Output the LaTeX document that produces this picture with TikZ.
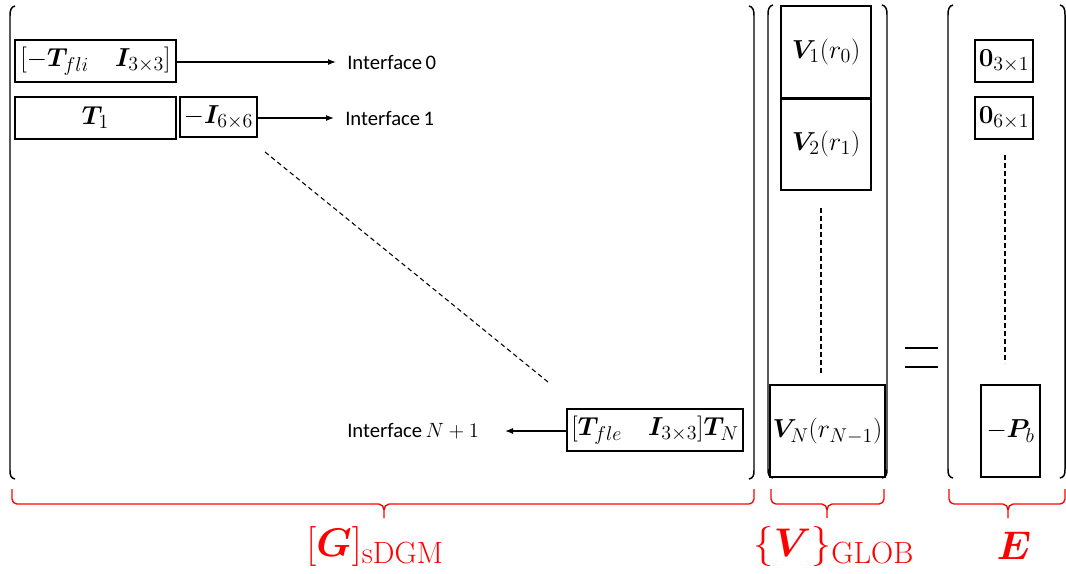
\documentclass[tikz,border=0pt]{standalone}
\usepackage{fix-cm}
\usepackage{amsmath,bm}
\usepackage[no-math]{fontspec}
\newfontfamily\calib{Carlito}
\usetikzlibrary{arrows.meta}
\DeclareMathSizes{19.5}{19.5}{15}{11}
\DeclareMathSizes{30}{30}{23}{17}
\definecolor{bred}{RGB}{255,0,0}
\tikzset{
  bx/.style={draw, line width=1pt, inner sep=0pt, font=\fontsize{19.5}{22}\selectfont},
  lbl/.style={inner sep=0pt, font=\calib\fontsize{15.5}{18}\selectfont},
  arr/.style={line width=0.9pt, -{Latex[length=6pt,width=4.5pt]}},
  brk/.style={line width=1.1pt},
  dsh/.style={line width=0.8pt, dash pattern=on 3.5pt off 2.5pt},
  rbrace/.style={bred, line width=1pt},
  rlbl/.style={bred, inner sep=0pt, font=\fontsize{30}{34}\selectfont},
}
\begin{document}
\begin{tikzpicture}[x=0.75pt,y=-0.75pt]
\useasboundingbox (0,0) rectangle (1066,574);
% big brackets
\draw[brk] (15,6) .. controls (11,7) and (10,10) .. (10,16) -- (10,470) .. controls (10,476) and (11,478) .. (15,479);
\draw[brk] (749,6) .. controls (753,7) and (754,10) .. (754,16) -- (754,470) .. controls (754,476) and (753,478) .. (749,479);
\draw[brk] (773,5) .. controls (769,6) and (768,9) .. (768,15) -- (768,469) .. controls (768,475) and (769,477) .. (773,478);
\draw[brk] (882,5) .. controls (886,6) and (887,9) .. (887,15) -- (887,469) .. controls (887,475) and (886,477) .. (882,478);
\draw[brk] (953,5) .. controls (949,6) and (948,9) .. (948,15) -- (948,469) .. controls (948,475) and (949,477) .. (953,478);
\draw[brk] (1060,5) .. controls (1064,6) and (1065,9) .. (1065,15) -- (1065,469) .. controls (1065,475) and (1064,477) .. (1060,478);
% G blocks
\node[bx, minimum width=120.75pt, minimum height=31.5pt] (b0) at (95.5,61) {$[-\bm{T}_{fli}\quad \bm{I}_{3\times3}]$};
\node[bx, minimum width=120.75pt, minimum height=31.5pt] (t1) at (95.5,118) {$\bm{T}_{1}$};
\node[bx, minimum width=57.75pt, minimum height=30pt] (i6) at (218.5,117) {$-\bm{I}_{6\times6}$};
\node[bx, minimum width=132pt, minimum height=31.5pt] (tn) at (655,430) {$[\bm{T}_{fle}\quad \bm{I}_{3\times3}]\bm{T}_{N}$};
\node[lbl, anchor=west] (if0) at (347,62) {Interface\,0};
\node[lbl, anchor=west] (if1) at (345,118) {Interface\,1};
\node[lbl, anchor=west] (ifn) at (347,431) {Interface\,$N+1$};
\coordinate (a0s) at (176,62);
\coordinate (a0e) at (336,62);
\coordinate (a1s) at (257,118);
\coordinate (a1e) at (334,118);
\coordinate (ans) at (567,431);
\coordinate (ane) at (505,431);
\draw[arr] (a0s) -- (a0e);
\draw[arr] (a1s) -- (a1e);
\draw[arr] (ans) -- (ane);
\coordinate (d0) at (265,152);
\coordinate (d1) at (548,382);
\draw[dsh] (d0) -- (d1);
% V blocks
\node[bx, minimum width=67.5pt, minimum height=69pt] (v1) at (826,52) {$\bm{V}_{1}(r_0)$};
\node[bx, minimum width=67.5pt, minimum height=68.25pt] (v2) at (826,144.5) {$\bm{V}_{2}(r_1)$};
\node[bx, minimum width=86.25pt, minimum height=69pt] (vn) at (827.5,431) {$\bm{V}_{N}(r_{N-1})$};
\coordinate (vd0) at (821,208);
\coordinate (vd1) at (821,373);
\draw[dsh] (vd0) -- (vd1);
% equals
\coordinate (e1) at (905,348); \coordinate (e2) at (938,348);
\coordinate (e3) at (905,367); \coordinate (e4) at (938,367);
\draw[line width=1.1pt] (e1) -- (e2) (e3) -- (e4);
% E blocks
\node[bx, minimum width=43.5pt, minimum height=31.5pt] (o1) at (1004,61) {$\mathbf{0}_{3\times1}$};
\node[bx, minimum width=43.5pt, minimum height=31.5pt] (o2) at (1004,118) {$\mathbf{0}_{6\times1}$};
\node[bx, minimum width=44.25pt, minimum height=69pt] (pb) at (1010.5,431) {$-\bm{P}_{b}$};
\coordinate (ed0) at (1005,155);
\coordinate (ed1) at (1005,363);
\draw[dsh] (ed0) -- (ed1);
% red braces
\draw[rbrace] (12,489) -- (12,499) to[out=-90,in=180] (17,504) -- (379,504) to[out=0,in=90] (384,510) -- (384,518);
\draw[rbrace] (384,510) to[out=90,in=180] (389,504) -- (749,504) to[out=0,in=-90] (754,499) -- (754,489);
\draw[rbrace] (771,489) -- (771,499) to[out=-90,in=180] (776,504) -- (822,504) to[out=0,in=90] (827,510) -- (827,518);
\draw[rbrace] (827,510) to[out=90,in=180] (832,504) -- (879,504) to[out=0,in=-90] (884,499) -- (884,489);
\draw[rbrace] (949,489) -- (949,499) to[out=-90,in=180] (954,504) -- (1003,504) to[out=0,in=90] (1008,510) -- (1008,518);
\draw[rbrace] (1008,510) to[out=90,in=180] (1013,504) -- (1060,504) to[out=0,in=-90] (1065,499) -- (1065,489);
\node[rlbl] (gl) at (375,546) {$[\bm{G}]_{\mathrm{sDGM}}$};
\node[rlbl] (vl) at (834,546) {$\{\bm{V}\}_{\mathrm{GLOB}}$};
\node[rlbl] (el) at (1014,546) {$\bm{E}$};
\end{tikzpicture}
\end{document}
